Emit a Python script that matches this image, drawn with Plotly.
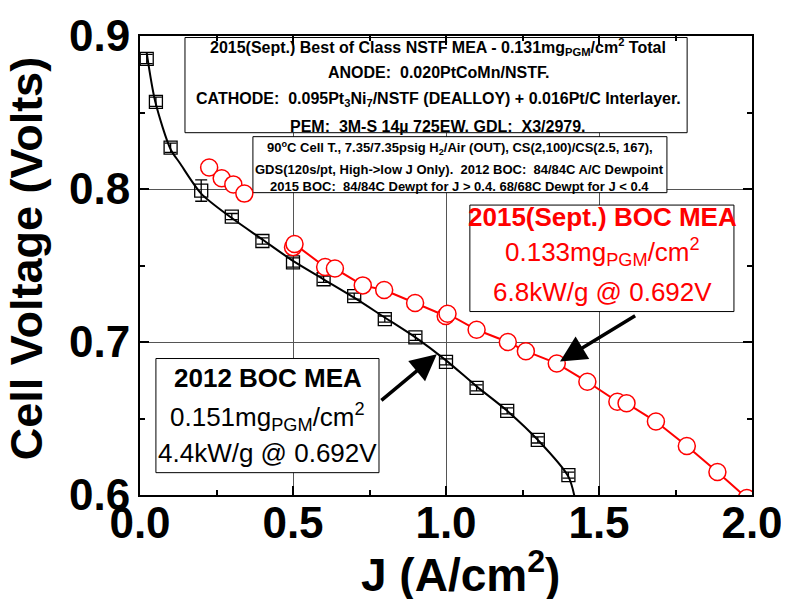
import plotly.graph_objects as go

FONT = "Liberation Sans, Arial, sans-serif"

# 2012 BOC MEA (black squares)
j_2012 = [0.022, 0.052, 0.10, 0.20, 0.30, 0.40, 0.50, 0.60, 0.70, 0.80, 0.90, 1.00, 1.10, 1.20, 1.30, 1.40]
v_2012 = [0.885, 0.857, 0.827, 0.799, 0.782, 0.766, 0.752, 0.741, 0.730, 0.715, 0.703, 0.687, 0.670, 0.655, 0.636, 0.613]
err_2012 = [0.003, 0.003, 0.003, 0.007, 0.002, 0.002, 0.003, 0.002, 0.002, 0.002, 0.002, 0.002, 0.002, 0.002, 0.002, 0.002]

# fitted curve through the 2012 data
fit_j = [0.022, 0.05, 0.10, 0.13, 0.20, 0.30, 0.40, 0.50, 0.60, 0.70, 0.80, 0.90, 1.00, 1.10, 1.20, 1.30, 1.40, 1.425]
fit_v = [0.889, 0.857, 0.826, 0.817, 0.797, 0.781, 0.767, 0.753, 0.741, 0.729, 0.716, 0.703, 0.688, 0.671, 0.655, 0.636, 0.612, 0.594]

# 2015 (Sept.) BOC MEA (red circles), low-J run and high-J run
j_2015_low = [0.226, 0.267, 0.305, 0.341]
v_2015_low = [0.814, 0.807, 0.803, 0.797]
j_2015 = [0.500, 0.505, 0.605, 0.637, 0.728, 0.798, 0.899, 0.999, 1.005, 1.10, 1.202, 1.261,
          1.362, 1.462, 1.56, 1.590, 1.686, 1.787, 1.887, 1.983]
v_2015 = [0.762, 0.764, 0.749, 0.748, 0.737, 0.734, 0.7255, 0.717, 0.7185, 0.708, 0.700, 0.694,
          0.686, 0.674, 0.661, 0.660, 0.648, 0.632, 0.615, 0.598]

x_ticks = [0.0, 0.5, 1.0, 1.5, 2.0]
y_ticks = [0.6, 0.7, 0.8, 0.9]

fig = go.Figure()

fig.add_trace(go.Scatter(
    x=fit_j, y=fit_v, mode="lines", line=dict(color="black", width=2, shape="spline", smoothing=0.8),
    hoverinfo="skip", showlegend=False,
))
fig.add_trace(go.Scatter(
    x=j_2012, y=v_2012, mode="markers",
    marker=dict(symbol="square-open", size=13, color="black", line=dict(width=1.3)),
    error_y=dict(type="data", array=err_2012, color="black", thickness=1.3, width=6),
    showlegend=False,
))
fig.add_trace(go.Scatter(
    x=j_2015_low + [None] + j_2015, y=v_2015_low + [None] + v_2015, mode="lines+markers",
    line=dict(color="red", width=2),
    marker=dict(symbol="circle", size=17, color="white", line=dict(color="red", width=1.5)),
    connectgaps=False, showlegend=False,
))

# text boxes (white filled, drawn above grid, below data)
boxes = [
    (0.147, 1.788, 0.8368, 0.8990),
    (0.369, 1.722, 0.7976, 0.8342),
    (1.078, 1.941, 0.7199, 0.7895),
    (0.052, 0.781, 0.6146, 0.6892),
]
for x0, x1, y0, y1 in boxes:
    fig.add_shape(type="rect", xref="x", yref="y", x0=x0, x1=x1, y0=y0, y1=y1,
                  fillcolor="white", line=dict(color="black", width=1), layer="between")


def label(x, y, text, size, color="black", bold=False):
    fig.add_annotation(x=x, y=y, xref="x", yref="y", text=text, showarrow=False,
                       font=dict(family=FONT, size=size, color=color,
                                 weight="bold" if bold else "normal"),
                       xanchor="center", yanchor="middle")


label(0.974, 0.8930, "2015(Sept.) Best of Class NSTF MEA - 0.131mg<sub>PGM</sub>/cm<sup>2</sup> Total", 16, bold=True)
label(0.974, 0.8760, "ANODE:  0.020PtCoMn/NSTF.", 16, bold=True)
label(0.974, 0.8586, "CATHODE:  0.095Pt<sub>3</sub>Ni<sub>7</sub>/NSTF (DEALLOY) + 0.016Pt/C Interlayer.", 16, bold=True)
label(0.974, 0.8410, "PEM:  3M-S 14\u00b5 725EW. GDL:  X3/2979.", 16, bold=True)

label(1.045, 0.8270, "90<sup>o</sup>C Cell T., 7.35/7.35psig H<sub>2</sub>/Air (OUT), CS(2,100)/CS(2.5, 167),", 13, bold=True)
label(1.045, 0.8127, "GDS(120s/pt, High->low J Only).  2012 BOC:  84/84C A/C Dewpoint", 13, bold=True)
label(1.045, 0.8015, "2015 BOC:  84/84C Dewpt for J > 0.4. 68/68C Dewpt for J < 0.4", 13, bold=True)

label(1.51, 0.7819, "2015(Sept.) BOC MEA", 26, color="red", bold=True)
label(1.51, 0.7590, "0.133mg<sub>PGM</sub>/cm<sup>2</sup>", 26, color="red")
label(1.51, 0.7329, "6.8kW/g @ 0.692V", 26, color="red")

label(0.4167, 0.6767, "2012 BOC MEA", 26, bold=True)
label(0.4167, 0.6512, "0.151mg<sub>PGM</sub>/cm<sup>2</sup>", 26)
label(0.4167, 0.6276, "4.4kW/g @ 0.692V", 26)

# arrows
for hx, hy, tx, ty in [(0.97, 0.692, 0.784, 0.661), (1.3725, 0.6873, 1.623, 0.7178)]:
    fig.add_annotation(x=hx, y=hy, ax=tx, ay=ty, xref="x", yref="y", axref="x", ayref="y",
                       text="", showarrow=True, arrowhead=2, arrowsize=1.5, arrowwidth=3.5,
                       arrowcolor="black")

# axis titles as annotations for exact placement
fig.add_annotation(x=0.524, y=-0.168, xref="paper", yref="paper", text="J (A/cm<sup>2</sup>)",
                   showarrow=False, xanchor="center", yanchor="middle",
                   font=dict(family=FONT, size=46, color="black", weight="bold"))
fig.add_annotation(x=-0.186, y=0.514, xref="paper", yref="paper", text="Cell Voltage (Volts)",
                   showarrow=False, xanchor="center", yanchor="middle", textangle=-90,
                   font=dict(family=FONT, size=45, color="black", weight="bold"))

axis_common = dict(
    showline=True, linecolor="black", linewidth=2, mirror="ticks",
    ticks="inside", ticklen=9, tickwidth=1.5, tickcolor="black",
    showgrid=True, gridcolor="#555555", gridwidth=1, zeroline=False, automargin=False,
    tickfont=dict(family=FONT, size=44, color="black", weight="bold"),
)

# the page body adds an 8px offset, so the figure is sized to fill the rest of the window
fig.update_layout(
    width=781, height=591,
    margin=dict(l=132, r=37, t=28, b=104),
    paper_bgcolor="white", plot_bgcolor="white",
    xaxis=dict(
        range=[0, 2.0], tickvals=x_ticks, ticktext=[f"{v:.1f}" for v in x_ticks],
        minor=dict(dtick=0.25, ticks="inside", ticklen=5, tickcolor="black", showgrid=False),
        ticklabelstandoff=-12,
        **axis_common,
    ),
    yaxis=dict(
        range=[0.6, 0.9], tickvals=y_ticks, ticktext=[f"{v:.1f}" for v in y_ticks],
        minor=dict(dtick=0.05, ticks="inside", ticklen=5, tickcolor="black", showgrid=False),
        ticklabelstandoff=-1,
        **axis_common,
    ),
)

fig.write_html("out.html")
